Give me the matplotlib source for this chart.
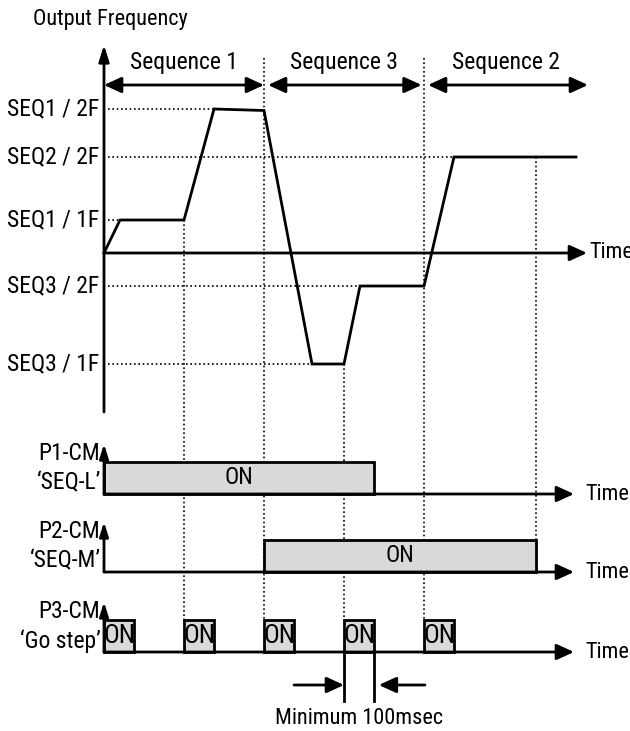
import matplotlib
matplotlib.use("Agg")
import matplotlib.pyplot as plt
from matplotlib import font_manager
from matplotlib.patches import Rectangle

# ---------------- fonts ----------------
_names = {f.name for f in font_manager.fontManager.ttflist}
FONT = "DejaVu Sans"
STRETCH = "normal"
for cand in ["Liberation Sans Narrow", "Roboto Condensed", "Open Sans Condensed"]:
    if cand in _names:
        FONT = cand
        break
else:
    if any(f.name == "DejaVu Sans" and f.stretch == "condensed" for f in font_manager.fontManager.ttflist):
        STRETCH = "condensed"
    elif "Liberation Sans" in _names:
        FONT = "Liberation Sans"
plt.rcParams["font.family"] = [FONT, "DejaVu Sans"]
plt.rcParams["font.stretch"] = STRETCH

# ---------------- data ----------------
seq_names = ["Sequence 1", "Sequence 3", "Sequence 2"]
seq_bounds = [0.0, 2.0, 4.0, 6.05]          # time (steps)

freq_labels = ["SEQ1 / 2F", "SEQ2 / 2F", "SEQ1 / 1F", "SEQ3 / 2F", "SEQ3 / 1F"]
freq_levels = [48, 32, 11, -11, -37]        # relative frequency
freq_reach_t = [1.375, 4.375, 0.2, 3.2, 2.6]  # time the curve reaches the level

curve_t = [0.0, 0.2, 1.0, 1.375, 2.0, 2.6, 3.0, 3.2, 4.0, 4.375, 5.9]
curve_f = [0, 11, 11, 48, 47.5, -37, -37, -11, -11, 32, 32]

signal_names = ["P1-CM", "P2-CM", "P3-CM"]
signal_funcs = ["\u2018SEQ-L\u2019", "\u2018SEQ-M\u2019", "\u2018Go step\u2019"]
p1_on = [(0.0, 3.375)]
p2_on = [(2.0, 5.4)]
p3_on = [(0.0, 0.375), (1.0, 1.375), (2.0, 2.375), (3.0, 3.375), (4.0, 4.375)]
signal_on = [p1_on, p2_on, p3_on]

guide_t = [1.0, 2.0, 3.0, 4.0, 5.4]
guide_from_level = [11, None, -37, None, 32]   # None -> from top of chart
guide_to_signal = [2, 2, 2, 2, 1]              # ends at the top of this signal's pulse

min_pulse = (3.0, 3.375)
min_label = "Minimum 100msec"

# ---------------- layout (pixels, y downward) ----------------
W, H = 630, 731
X0, XS = 104, 80           # pixel of t=0, pixels per step
FREQ_BASE, FREQ_SCALE = 253, 3.0
SIG_BASE = [494, 572, 652]
SIG_H = 32
FS = 17


def fy(f):
    return FREQ_BASE - FREQ_SCALE * f


def px(x):
    return (x - X0) / XS


fig = plt.figure(figsize=(W / 100, H / 100), dpi=100)
ax = fig.add_axes([0, 0, 1, 1])
ax.set_xlim(px(0), px(W))
ax.set_ylim(H, 0)
ax.axis("off")

LW = 2.0
K = "black"
DOT = dict(color=K, lw=1.2, linestyle=(0, (1, 1.6)), zorder=1)


def arrow(x0, y0, x1, y1, style="-|>", hl=0.6, hw=0.3, ms=15, lw=LW, z=3):
    ax.annotate("", xy=(x1, y1), xytext=(x0, y0),
                arrowprops=dict(arrowstyle=f"{style},head_length={hl},head_width={hw}",
                                mutation_scale=ms, lw=lw, color=K,
                                shrinkA=0, shrinkB=0), zorder=z)


# title
ax.text(px(33), 20, "Output Frequency", fontsize=FS - 1, ha="left", va="center")

# frequency axes
arrow(0, 412, 0, 45, hl=0.7, hw=0.22, ms=14)
arrow(0, FREQ_BASE, px(587), FREQ_BASE, hl=0.7, hw=0.32, ms=15)
ax.text(px(589), FREQ_BASE, "Time", fontsize=FS - 1, ha="left", va="center")

# sequences
for i, name in enumerate(seq_names):
    a, b = seq_bounds[i], seq_bounds[i + 1]
    ga = 0.05 if i > 0 else 0.0
    gb = 0.03 if i == 1 else 0.0
    arrow(a + ga, 85, b - gb, 85, style="<|-|>", hl=0.7, hw=0.32, ms=15)
    ax.text((a + b) / 2, 62, name, fontsize=FS, ha="center", va="center")

# level labels and dotted guides
for lab, lev, tr in zip(freq_labels, freq_levels, freq_reach_t):
    ax.text(px(99), fy(lev), lab, fontsize=FS, ha="right", va="center")
    ax.plot([0.05, tr], [fy(lev), fy(lev)], **DOT)

# vertical guides
for t, lev, s in zip(guide_t, guide_from_level, guide_to_signal):
    y0 = 58 if lev is None else fy(lev)
    ax.plot([t, t], [y0, SIG_BASE[s] - SIG_H], **DOT)

# output frequency curve
ax.plot(curve_t, [fy(f) for f in curve_f], color=K, lw=LW, zorder=4,
        solid_joinstyle="miter")

# digital signals
for k in range(3):
    base = SIG_BASE[k]
    arrow(0, base, 0, base - 50, hl=0.7, hw=0.22, ms=12)
    arrow(0, base, px(574), base, hl=0.7, hw=0.32, ms=15)
    ax.text(px(585), base, "Time", fontsize=FS - 1, ha="left", va="center")
    ax.text(px(100), base - 40, signal_names[k], fontsize=FS, ha="right", va="center")
    ax.text(px(101), base - 11, signal_funcs[k], fontsize=FS, ha="right", va="center")
    for (a, b) in signal_on[k]:
        ax.add_patch(Rectangle((a, base - SIG_H), b - a, SIG_H, facecolor="#d9d9d9",
                               edgecolor=K, lw=LW, zorder=2))
        if k < 2:
            ax.text((a + b) / 2, base - SIG_H / 2, "ON", fontsize=FS, ha="center",
                    va="center", zorder=5)
        else:
            ax.text((a + b) / 2, base - SIG_H / 2, "ON", fontsize=FS + 2, ha="center",
                    va="center", zorder=5)

# minimum pulse width annotation
a, b = min_pulse
yb = SIG_BASE[2]
for t in (a, b):
    ax.plot([t, t], [yb, 701], color=K, lw=LW, zorder=3)
arrow(px(294), 685, a, 685, hl=0.7, hw=0.32, ms=15)
arrow(px(425), 685, b + 0.06, 685, hl=0.7, hw=0.32, ms=15)
ax.text((a + b) / 2, 718, min_label, fontsize=FS - 1, ha="center", va="center")

fig.savefig("out.png", dpi=100)
